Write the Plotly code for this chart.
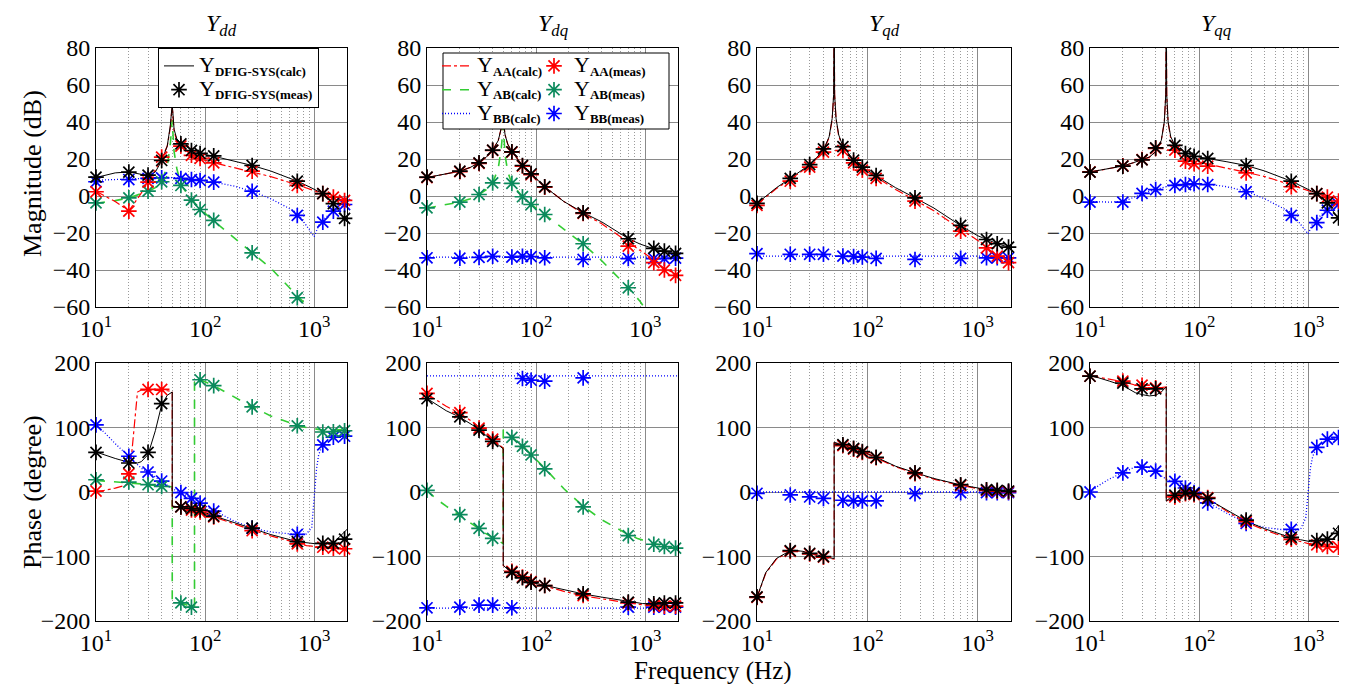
import plotly.graph_objects as go
from plotly.subplots import make_subplots

# ---------------- data ----------------
F_MEAS = [10, 20, 30, 40, 60, 75, 90, 120, 270, 700, 1200, 1500, 1900]
F_MAG_LINE = [10, 15, 20, 25, 30, 35, 40, 45, 48, 49.5, 50, 50.5, 52, 55, 60, 75, 90, 120,
              180, 270, 400, 700, 900, 1000, 1100, 1200, 1500, 2000]
F_PH_LINE = [10, 12, 15, 20, 22, 24, 26, 30, 35, 40, 45, 50, 50, 55, 60, 75, 80, 80, 90, 120,
             180, 270, 400, 700, 850, 950, 1000, 1050, 1100, 1200, 1500, 2000]

# Magnitude (dB), calculated curves
DD_MAG_SYS = [10, 12.5, 13, 12, 11, 13, 19, 27, 38, 47, 49, 46, 36, 31, 28.5, 25, 23, 21.5, 19, 16.5, 13.5, 8, 5, 3.5, 2.3, 1.3, -4, -14]
DD_MAG_AA = [2.5, -3, -8, 0, 7.5, 14, 20, 27, 37, 46, 48, 45, 35, 30, 27, 22.5, 20, 18, 15.5, 13, 10.5, 6, 4, 3, 2, 1.3, -0.5, -3]
DD_MAG_AB = [-4, -2.5, -1, 0.8, 2.5, 4.5, 8, 16, 28, 38, 41, 36, 24, 15, 6, -2, -7, -13.5, -22, -30.5, -39, -54, -60, -63, -66, -68, -73, -80]
DD_MAG_BB = [8.5, 9, 9.2, 9.5, 9.8, 10, 10, 10, 10, 10, 10, 10, 10, 9.8, 9.5, 9, 8.4, 7.5, 5.5, 2.6, -1.5, -9, -18, -22, -16, -13, -8, -4.5]

DQ_MAG_SYS = [10, 12, 13.4, 15.5, 18, 21, 24.8, 30, 36, 40, 41, 39, 33, 28, 24, 16.5, 12, 5, -3, -9, -14, -23, -26, -27, -28, -28.5, -30, -31.5]
DQ_MAG_AA = [10, 12, 13.4, 15.5, 18, 21, 24.8, 30, 36, 40, 41, 39, 33, 28, 24, 16.5, 12, 5, -3, -9.5, -15, -25, -29, -31, -33, -35, -39, -43]
DQ_MAG_AB = [-6.5, -4.5, -3.3, -1.5, 0.8, 3.5, 7, 15, 26, 35, 38, 34, 22, 13, 6.8, -0.5, -4.6, -10, -18, -26, -35, -49.6, -57, -61, -63, -66, -72, -80]
DQ_MAG_BB = [-33, -33, -33, -33, -33, -33, -33, -33, -33, -33, -33, -33, -33, -33, -33, -33, -33, -33, -33, -33, -33, -33, -33, -33, -33, -33, -33, -33]

QD_MAG_SYS = [-4, 4.5, 9.5, 13.5, 17, 21, 25, 32, 42, 55, 100, 55, 42, 33, 27, 19.5, 15.6, 11, 4.5, -1, -6.5, -16, -20, -21.5, -22.5, -23.5, -25.8, -28]
QD_MAG_AA = [-4.5, 4, 9, 13, 16.5, 20.5, 24.5, 31.5, 41.5, 54.5, 100, 54.5, 41.5, 32.5, 26, 18.5, 14.8, 10.2, 3.5, -2.2, -8, -18, -22, -24, -26, -28, -32, -36]
QD_MAG_BB = [-32.5, -32.5, -32.5, -32.5, -32.5, -32.5, -32.5, -32.5, -32.5, -32.5, -32.5, -32.5, -32.5, -32.5, -32.5, -32.5, -32.5, -32.5, -32.5, -32.5, -32.5, -32.5, -32.5, -32.5, -32.5, -32.5, -32.5, -32.5]

QQ_MAG_SYS = [13, 15, 16.2, 18, 19.5, 21, 24, 30, 40, 55, 100, 55, 40, 32, 27.5, 23.5, 21.5, 20.3, 18.5, 16.5, 13.5, 8, 5, 3.5, 2.3, 1.3, -4, -14]
QQ_MAG_AA = [13, 15, 16.2, 18, 19.5, 21, 24, 30, 40, 55, 100, 55, 40, 31, 26, 21, 19, 17.5, 15, 12.8, 10.5, 6, 4, 3, 2, 1.3, -0.5, -3]
QQ_MAG_BB = [-3, -3.3, -3, -1, 1, 2.5, 3.5, 4.5, 5, 5, 5, 5.2, 5.5, 5.7, 6, 6.4, 6.6, 6.4, 5, 2.5, -1.5, -9, -17, -20.5, -15, -12.5, -7, -3]

# Magnitude (dB), measured points
DD_MAG_SYS_MEAS = [10.2, 12.9, 11.3, 19.2, 28.2, 24.6, 23.0, 21.7, 16.5, 8.0, 1.3, -4.1, -12.1]
DD_MAG_AA_MEAS = [2.3, -8.2, 7.5, 21.0, 27.0, 22.0, 20.3, 17.9, 13.4, 5.7, 1.3, -0.6, -2.4]
DD_MAG_AB_MEAS = [-3.7, -1.0, 2.6, 7.7, 5.7, -2.2, -7.3, -13.2, -30.7, -55.0, None, None, None]
DD_MAG_BB_MEAS = [7.7, 8.9, 9.5, 9.8, 9.5, 8.9, 8.4, 7.5, 2.6, -10.5, -14.1, -8.2, -4.6]

DQ_MAG_SYS_MEAS = [10.2, 13.4, 17.9, 24.8, 23.9, 16.5, 12.0, 5.0, -9.1, -23.1, -28.3, -29.8, -31.0]
DQ_MAG_AA_MEAS = [10.0, 13.2, 17.6, 24.6, 23.7, 16.2, 11.6, 4.8, -9.4, -27.1, -36.0, -40.0, -42.9]
DQ_MAG_AB_MEAS = [-6.4, -3.3, 0.8, 7.1, 6.8, -0.4, -4.6, -10.0, -25.8, -49.6, None, None, None]
DQ_MAG_BB_MEAS = [-33.4, -33.6, -33.2, -32.6, -33.0, -32.6, -32.8, -33.4, -34.3, -33.8, -33.8, -33.8, -33.6]

QD_MAG_SYS_MEAS = [-4.0, 9.5, 17.0, 25.5, 26.7, 19.4, 15.6, 11.1, -1.0, -15.9, -23.5, -25.8, -27.6]
QD_MAG_AA_MEAS = [-5.1, 8.0, 15.6, 23.7, 24.6, 17.9, 14.0, 9.5, -2.8, -19.0, -28.0, -32.5, -36.0]
QD_MAG_BB_MEAS = [-31.2, -31.5, -31.5, -31.5, -32.5, -32.7, -33.0, -33.7, -34.3, -33.7, -33.4, -33.4, -33.4]

QQ_MAG_SYS_MEAS = [12.9, 16.1, 19.5, 26.0, 27.4, 23.0, 21.5, 20.3, 16.5, 8.0, 1.3, -3.7, -11.8]
QQ_MAG_AA_MEAS = [13.0, 16.3, 19.7, 25.7, 24.8, 18.8, 17.4, 16.1, 12.5, 5.0, 1.3, -0.6, -2.7]
QQ_MAG_BB_MEAS = [-3.3, -3.3, 1.4, 3.5, 5.7, 6.2, 6.6, 6.2, 2.3, -10.5, -14.4, -7.7, -4.5]

# Phase (degree), calculated curves
DD_PH_SYS = [62, 57, 52, 46, 45, 45, 47, 58, 95, 135, 150, 155, -22, -22, -23, -26, -27, -27, -29, -37, -47, -57, -66, -77, -79, -80, -80, -80, -80, -80, -79, -58]
DD_PH_AA = [0, 3, 6, 12, 90, 155, 158, 158, 158, 158, 157, 156, -22, -23, -24, -28, -29, -29, -31, -38.5, -49, -59, -68, -80, -83, -84, -85, -85, -85.5, -86, -87, -89]
DD_PH_AB = [18, 17, 16, 15, 14, 13, 12.5, 11, 10, 9, 8.5, 8, -170, -171, -172, -178, -180, 176, 174, 165, 148, 132, 118, 103, 100, 99, 98.5, 98, 97.5, 96, 96, 97]
DD_PH_BB = [104, 92, 75, 55, 48, 42, 37, 31, 23, 17, 10, 5, 5, 2, -1, -10, -12, -12, -17.5, -29, -44, -56, -62, -66, -65, -55, -5, 35, 58, 74, 85, 87]

DQ_PH_SYS = [145, 136, 126, 116, 112, 108, 104, 96, 87, 79, 72, 67, -114, -120, -125, -133, -135, -135, -140, -145, -152, -158, -163, -170, -172, -173, -173, -173, -173, -173, -172, -172]
DQ_PH_AA = [152, 143, 133, 122, 117, 113, 109, 100, 90, 81, 74, 68, -114, -120, -125, -133, -135, -135, -140, -146, -154, -161, -166, -172, -174, -175, -175, -175.5, -176, -176, -177, -177]
DQ_PH_AB = [2, -10, -22, -36, -41, -46, -50, -57, -65, -71, -76, -80, 97, 90, 85, 71, 67, 67, 58, 37, 5, -22, -43, -66, -72, -75, -76, -77, -78, -80, -84, -88]
DQ_PH_BB_F = [10, 2000, None, 10, 2000]
DQ_PH_BB = [180, 180, None, -180, -180]

QD_PH_SYS = [-163, -125, -103, -91, -90.5, -91, -92, -95, -98, -100, -102, -103, 77, 75, 73, 68, 66, 66, 63, 54, 40, 30, 21, 11, 8, 6.5, 6, 5.5, 5, 4, 2.5, 1.5]
QD_PH_AA = [-164, -126, -104, -92, -91, -91.5, -92.5, -95.5, -98.5, -101, -103, -104, 76, 74, 72, 67, 65, 65, 62, 53, 39, 29, 20, 10, 7, 5.5, 5, 4.5, 4, 3, 2, 1]
QD_PH_BB = [0, 0, 0, 0, 0, 0, 0, 0, 0, 0, 0, 0, 0, 0, 0, 0, 0, 0, 0, 0, 0, 0, 0, 0, 0, 0, 0, 0, 0, 0, 0, 0]

QQ_PH_SYS = [180, 177, 172, 165, 161, 157, 154, 151, 149, 150, 155, 163, -14, -8, -5, -1, -1, -1, -3, -11, -28, -45, -57, -71, -74, -76, -76, -77, -77, -77, -74, -48]
QQ_PH_AA = [180, 178, 175, 171, 169, 167, 165, 163, 161, 161, 162, 163, -14, -10, -8, -3, -3, -3, -4, -10, -30, -47, -59, -73, -77, -79, -80, -80, -81, -82, -85, -87]
QQ_PH_BB = [0, 10, 20, 30, 34, 37, 39, 40, 38, 33, 25, 20, 20, 18, 15, 6, 4, 4, -1, -16, -33, -48, -55, -60, -58, -40, 0, 38, 55, 70, 82, 86]

# Phase (degree), measured points
DD_PH_SYS_MEAS = [61.5, 45, 61.5, 137, -23, -25.6, -28, -37.4, -56, -77, -79.5, -79.5, -73]
DD_PH_AA_MEAS = [1.5, 28, 159, 159, -23, -28, -31, -38.5, -60, -80.5, -85.6, -87, -88]
DD_PH_AB_MEAS = [19, 15.4, 11.3, 8.7, -172, -178.5, 174, 165, 132, 102.6, 93, 93.5, 95]
DD_PH_BB_MEAS = [104, 55.4, 31, 17, -0.9, -10, -17.4, -29.7, -56.4, -65.6, 73, 85, 86.5]

DQ_PH_SYS_MEAS = [144.6, 116.4, 96, 78.5, -124.6, -133, -140, -145, -158, -170.8, -173.3, -172, -172]
DQ_PH_AA_MEAS = [153, 123, 99, 82, -123, -132, -139, -145, -160.5, -172, -176, -177, -177]
DQ_PH_AB_MEAS = [2.6, -35, -56.4, -71.8, 84.6, 70.8, 57.4, 36, -23, -67.7, -81, -84.6, -87]
DQ_PH_BB_MEAS = [-179.5, -178.5, -175.4, -175.4, -179.5, 176, 173.3, 171.8, 177, -178.5, -178.5, -178.5, -178.5]

QD_PH_SYS_MEAS = [-162.6, -90.8, -95, -100, 73.3, 67.7, 62.6, 53.8, 29.7, 11.3, 3.6, 2.5, 1.5]
QD_PH_AA_MEAS = [-163.5, -92, -96, -101, 72, 66.5, 61.5, 53, 28.5, 10, 2.5, 1.5, 0.5]
QD_PH_BB_MEAS = [-2, -4.6, -7.7, -10, -12.8, -13.8, -13.8, -13.8, -2.6, -1, -1, -1, -1]

QQ_PH_SYS_MEAS = [179.5, 169, 160, 160, -5, -1, -2.6, -10, -43.6, -70.3, -75.4, -73, -64]
QQ_PH_AA_MEAS = [179.5, 172, 165.6, 161.5, -7.7, -2.6, -4, -8.7, -46, -73.3, -82, -84.6, -85.6]
QQ_PH_BB_MEAS = [0, 29.7, 38.5, 32.3, 16.4, 6.2, -1, -17, -48.7, -58, 69.2, 82, 84.6]

PANEL_TITLES = ["dd", "dq", "qd", "qq"]
X_TICKS = [10, 100, 1000]
X_TICK_TEXT = ["10<sup>1</sup>", "10<sup>2</sup>", "10<sup>3</sup>"]
MAG_TICKS = [-60, -40, -20, 0, 20, 40, 60, 80]
PH_TICKS = [-200, -100, 0, 100, 200]

# ---------------- styling ----------------
FONT = "Liberation Serif, Times New Roman, Times, serif"
C_SYS = "#000000"
C_AA = "#ff0000"
C_AB_LINE = "#33cc33"
C_AB_MK = "#0b8a5c"
C_BB = "#0000ff"
W, H = 1347, 684
X_PIX = [(88, 339), (419, 670), (749, 1003), (1082, 1333)]
Y_PIX = [(40, 299), (355, 613)]
MINOR = [20, 30, 40, 50, 60, 70, 80, 90, 200, 300, 400, 500, 600, 700, 800, 900, 2000]


def lab(sub):
    return ('<span style="font-size:22px">Y</span><sub><b><span style="font-size:13px">%s</span></b></sub>' % sub)


fig = make_subplots(rows=2, cols=4)


def line(row, col, f, y, color, dash, width, name=None, legend=None, show=False, rank=None):
    fig.add_trace(go.Scatter(x=f, y=y, mode="lines", line=dict(color=color, dash=dash, width=width),
                             name=name, legend=legend, showlegend=show, legendrank=rank,
                             hoverinfo="skip"), row=row, col=col)


def pts(row, col, y, color, name=None, legend=None, show=False, rank=None):
    fig.add_trace(go.Scatter(x=F_MEAS, y=y, mode="markers",
                             marker=dict(symbol="asterisk-open", size=13, color=color,
                                         line=dict(color=color, width=1.7)),
                             name=name, legend=legend, showlegend=show, legendrank=rank,
                             hoverinfo="skip", cliponaxis=False), row=row, col=col)


panels = [
    (1, 1, F_MAG_LINE, DD_MAG_SYS, DD_MAG_AA, DD_MAG_AB, F_MAG_LINE, DD_MAG_BB,
     DD_MAG_SYS_MEAS, DD_MAG_AA_MEAS, DD_MAG_AB_MEAS, DD_MAG_BB_MEAS),
    (1, 2, F_MAG_LINE, DQ_MAG_SYS, DQ_MAG_AA, DQ_MAG_AB, F_MAG_LINE, DQ_MAG_BB,
     DQ_MAG_SYS_MEAS, DQ_MAG_AA_MEAS, DQ_MAG_AB_MEAS, DQ_MAG_BB_MEAS),
    (1, 3, F_MAG_LINE, QD_MAG_SYS, QD_MAG_AA, None, F_MAG_LINE, QD_MAG_BB,
     QD_MAG_SYS_MEAS, QD_MAG_AA_MEAS, None, QD_MAG_BB_MEAS),
    (1, 4, F_MAG_LINE, QQ_MAG_SYS, QQ_MAG_AA, None, F_MAG_LINE, QQ_MAG_BB,
     QQ_MAG_SYS_MEAS, QQ_MAG_AA_MEAS, None, QQ_MAG_BB_MEAS),
    (2, 1, F_PH_LINE, DD_PH_SYS, DD_PH_AA, DD_PH_AB, F_PH_LINE, DD_PH_BB,
     DD_PH_SYS_MEAS, DD_PH_AA_MEAS, DD_PH_AB_MEAS, DD_PH_BB_MEAS),
    (2, 2, F_PH_LINE, DQ_PH_SYS, DQ_PH_AA, DQ_PH_AB, DQ_PH_BB_F, DQ_PH_BB,
     DQ_PH_SYS_MEAS, DQ_PH_AA_MEAS, DQ_PH_AB_MEAS, DQ_PH_BB_MEAS),
    (2, 3, F_PH_LINE, QD_PH_SYS, QD_PH_AA, None, F_PH_LINE, QD_PH_BB,
     QD_PH_SYS_MEAS, QD_PH_AA_MEAS, None, QD_PH_BB_MEAS),
    (2, 4, F_PH_LINE, QQ_PH_SYS, QQ_PH_AA, None, F_PH_LINE, QQ_PH_BB,
     QQ_PH_SYS_MEAS, QQ_PH_AA_MEAS, None, QQ_PH_BB_MEAS),
]

for (r, c, f, sys_c, aa_c, ab_c, fbb, bb_c, sys_m, aa_m, ab_m, bb_m) in panels:
    leg_sys = (r == 1 and c == 1)
    leg_oth = (r == 1 and c == 2)
    if ab_c is not None:
        line(r, c, f, ab_c, C_AB_LINE, "dash", 1.6, lab("AB(calc)"), "legend2", leg_oth, 2)
    line(r, c, fbb, bb_c, C_BB, "1px,2px", 1.3, lab("BB(calc)"), "legend2", leg_oth, 3)
    line(r, c, f, aa_c, C_AA, "dashdot", 1.2, lab("AA(calc)"), "legend2", leg_oth, 1)
    line(r, c, f, sys_c, C_SYS, "solid", 1.0, lab("DFIG-SYS(calc)"), "legend", leg_sys, 1)
    pts(r, c, bb_m, C_BB, lab("BB(meas)"), "legend3", leg_oth, 3)
    if ab_m is not None:
        pts(r, c, ab_m, C_AB_MK, lab("AB(meas)"), "legend3", leg_oth, 2)
    pts(r, c, aa_m, C_AA, lab("AA(meas)"), "legend3", leg_oth, 1)
    pts(r, c, sys_m, C_SYS, lab("DFIG-SYS(meas)"), "legend", leg_sys, 2)

tickfont = dict(family=FONT, size=24, color="black")
for r in (1, 2):
    for c in (1, 2, 3, 4):
        x0, x1 = X_PIX[c - 1]
        y0, y1 = Y_PIX[r - 1]
        fig.update_xaxes(type="log", range=[1, 3.30103], domain=[x0 / W, x1 / W],
                         tickvals=X_TICKS, ticktext=X_TICK_TEXT, tickfont=tickfont,
                         showline=True, linecolor="black", linewidth=1, mirror=True,
                         showgrid=True, gridcolor="#8a8a8a", gridwidth=1, ticks="",
                         minor=dict(tickvals=MINOR, showgrid=True, gridcolor="#9a9a9a",
                                    griddash="1px,2px", gridwidth=1, ticks=""),
                         zeroline=False, automargin=False, row=r, col=c)
        if r == 1:
            fig.update_yaxes(range=[-60, 80], tickvals=MAG_TICKS, row=r, col=c)
        else:
            fig.update_yaxes(range=[-200, 200], tickvals=PH_TICKS, row=r, col=c)
        fig.update_yaxes(domain=[1 - y1 / H, 1 - y0 / H], tickfont=tickfont,
                         showline=True, linecolor="black", linewidth=1, mirror=True,
                         showgrid=True, gridcolor="#8a8a8a", gridwidth=1, ticks="",
                         zeroline=False, automargin=False, row=r, col=c)

annotations = []
for i, t in enumerate(PANEL_TITLES):
    x0, x1 = X_PIX[i]
    annotations.append(dict(text="<i>Y</i><sub><i>%s</i></sub>" % t, x=(x0 + x1) / 2 / W, y=1 - 17 / H,
                            xref="paper", yref="paper", showarrow=False,
                            font=dict(family=FONT, size=24, color="black"),
                            xanchor="center", yanchor="middle"))
annotations.append(dict(text="Magnitude (dB)", x=24 / W, y=1 - 166 / H, xref="paper", yref="paper",
                        showarrow=False, textangle=-90, font=dict(family=FONT, size=26, color="black"),
                        xanchor="center", yanchor="middle"))
annotations.append(dict(text="Phase (degree)", x=24 / W, y=1 - 484 / H, xref="paper", yref="paper",
                        showarrow=False, textangle=-90, font=dict(family=FONT, size=26, color="black"),
                        xanchor="center", yanchor="middle"))
annotations.append(dict(text="Frequency (Hz)", x=705 / W, y=1 - 663 / H, xref="paper", yref="paper",
                        showarrow=False, font=dict(family=FONT, size=25, color="black"),
                        xanchor="center", yanchor="middle"))

legfont = dict(family=FONT, size=16, color="black")
fig.update_layout(
    width=W, height=H, margin=dict(l=0, r=0, t=0, b=0),
    paper_bgcolor="white", plot_bgcolor="white",
    font=dict(family=FONT, color="black"),
    annotations=annotations,
    legend=dict(x=150 / W, y=1 - 40 / H, xanchor="left", yanchor="top", bgcolor="white",
                bordercolor="black", borderwidth=1, font=legfont, tracegroupgap=0,
                itemwidth=30),
    legend2=dict(x=429 / W, y=1 - 41 / H, xanchor="left", yanchor="top", bgcolor="rgba(0,0,0,0)",
                 borderwidth=0, font=legfont, itemwidth=30),
    legend3=dict(x=526 / W, y=1 - 41 / H, xanchor="left", yanchor="top", bgcolor="rgba(0,0,0,0)",
                 borderwidth=0, font=legfont, itemwidth=30),
    shapes=[dict(type="rect", xref="paper", yref="paper", x0=435 / W, x1=661 / W,
                 y0=1 - 121 / H, y1=1 - 45 / H, line=dict(color="black", width=1),
                 fillcolor="white", layer="above")],
)

fig.write_html("out.html")
